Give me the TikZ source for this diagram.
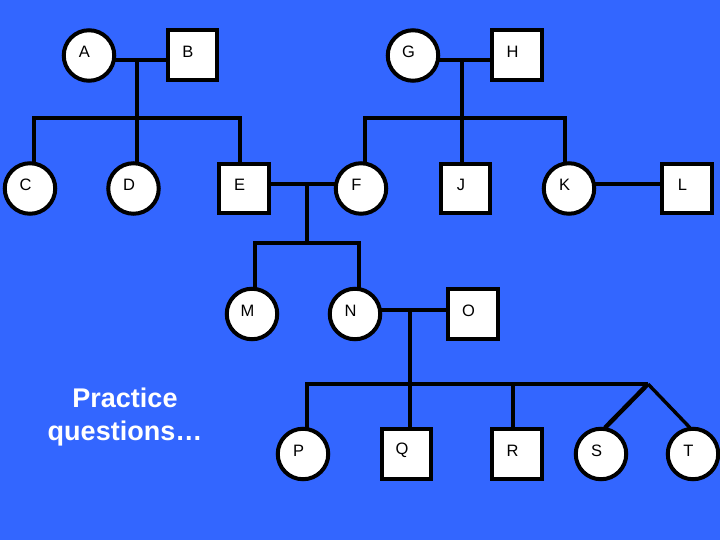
\documentclass[tikz,border=0pt]{standalone}
\usepackage{fontspec}
\setmainfont{Liberation Sans}
\usetikzlibrary{backgrounds}
\definecolor{bg}{RGB}{51,102,255}
\tikzset{
  every picture/.style={x=1pt,y=-1pt},
  lnk/.style={line width=3.4pt,black},
  twinthick/.style={line width=4.5pt,black},
  lbl/.style={font=\fontsize{16.5}{16.5}\selectfont,text=black,inner sep=0pt,xshift=-4.5pt,yshift=3.5pt},
  fem/.style={circle,draw=black,fill=white,line width=4pt,minimum size=50.5pt,inner sep=0pt,label={[lbl]center:#1}},
  mal/.style={rectangle,draw=black,fill=white,line width=4pt,minimum size=49.5pt,inner sep=0pt,label={[lbl]center:#1}},
  note/.style={font=\bfseries\fontsize{27}{33}\selectfont,text=white,align=center,inner sep=0pt}
}
\begin{document}
\begin{tikzpicture}
\useasboundingbox (0,0) rectangle (720,540);
\begin{scope}[on background layer]
  \fill[bg] (0,0) rectangle (720,540);
\end{scope}
% generation I
\node[fem=A] (A) at (89,55.5) {};
\node[mal=B] (B) at (192.5,55) {};
\node[fem=G] (G) at (413,55.5) {};
\node[mal=H] (H) at (517,55) {};
% generation II
\node[fem=C] (C) at (30,188.5) {};
\node[fem=D] (D) at (133.5,188.5) {};
\node[mal=E] (E) at (244,188.5) {};
\node[fem=F] (F) at (361,188.5) {};
\node[mal=J] (J) at (465.5,188.5) {};
\node[fem=K] (K) at (569,188.5) {};
\node[mal=L] (L) at (687,188.5) {};
% generation III
\node[fem=M] (M) at (252,314) {};
\node[fem=N] (N) at (355,314) {};
\node[mal=O] (O) at (473,314) {};
% generation IV
\node[fem=P] (P) at (303,454) {};
\node[mal=Q] (Q) at (406.5,454) {};
\node[mal=R] (R) at (517,454) {};
\node[fem=S] (S) at (601,454) {};
\node[fem=T] (T) at (693,454) {};
% text
\node[note] (txt) at (125,417) {Practice\\questions\ldots};
% coordinates
\coordinate (ab) at (137,60);
\coordinate (abs) at (137,118);
\coordinate (gh) at (462,60);
\coordinate (ghs) at (462,118);
\coordinate (ef) at (307,184);
\coordinate (efs) at (307,243);
\coordinate (no) at (410,310);
\coordinate (nos) at (410,384);
\coordinate (tw) at (648,384);
\coordinate (kl) at (569,184);
\begin{scope}[on background layer]
  % A x B
  \draw[lnk] (A |- ab) -- (B |- ab);
  \draw[lnk] (ab) -- (abs);
  \draw[lnk] ([xshift=4pt]C.center) |- (abs) -| ([xshift=-4pt]E.center);
  \draw[lnk] (abs) -- ([xshift=3.5pt]D.center);
  % G x H
  \draw[lnk] (G |- gh) -- (H |- gh);
  \draw[lnk] (gh) -- (ghs);
  \draw[lnk] ([xshift=4pt]F.center) |- (ghs) -| ([xshift=-4pt]K.center);
  \draw[lnk] (ghs) -- ([xshift=-3.5pt]J.center);
  % E x F
  \draw[lnk] (E |- ef) -- (F |- ef);
  \draw[lnk] (ef) -- (efs);
  \draw[lnk] ([xshift=3pt]M.center) |- (efs) -| ([xshift=4pt]N.center);
  % K x L
  \draw[lnk] (K |- kl) -- (L |- kl);
  % N x O
  \draw[lnk] (N |- no) -- (O |- no);
  \draw[lnk] (no) -- (nos);
  \draw[lnk] ([xshift=4pt]P.center) |- (tw);
  \draw[lnk] (nos) -- ([xshift=3.5pt]Q.center);
  \draw[lnk] ([xshift=-4pt]R.center) -- ([xshift=-4pt]R.center |- tw);
  % twins S, T
  \draw[twinthick] (tw) -- ([xshift=4pt,yshift=-1pt]S.north);
  \draw[lnk] (tw) -- ([xshift=-3pt,yshift=-1pt]T.north);
\end{scope}
\end{tikzpicture}
\end{document}
